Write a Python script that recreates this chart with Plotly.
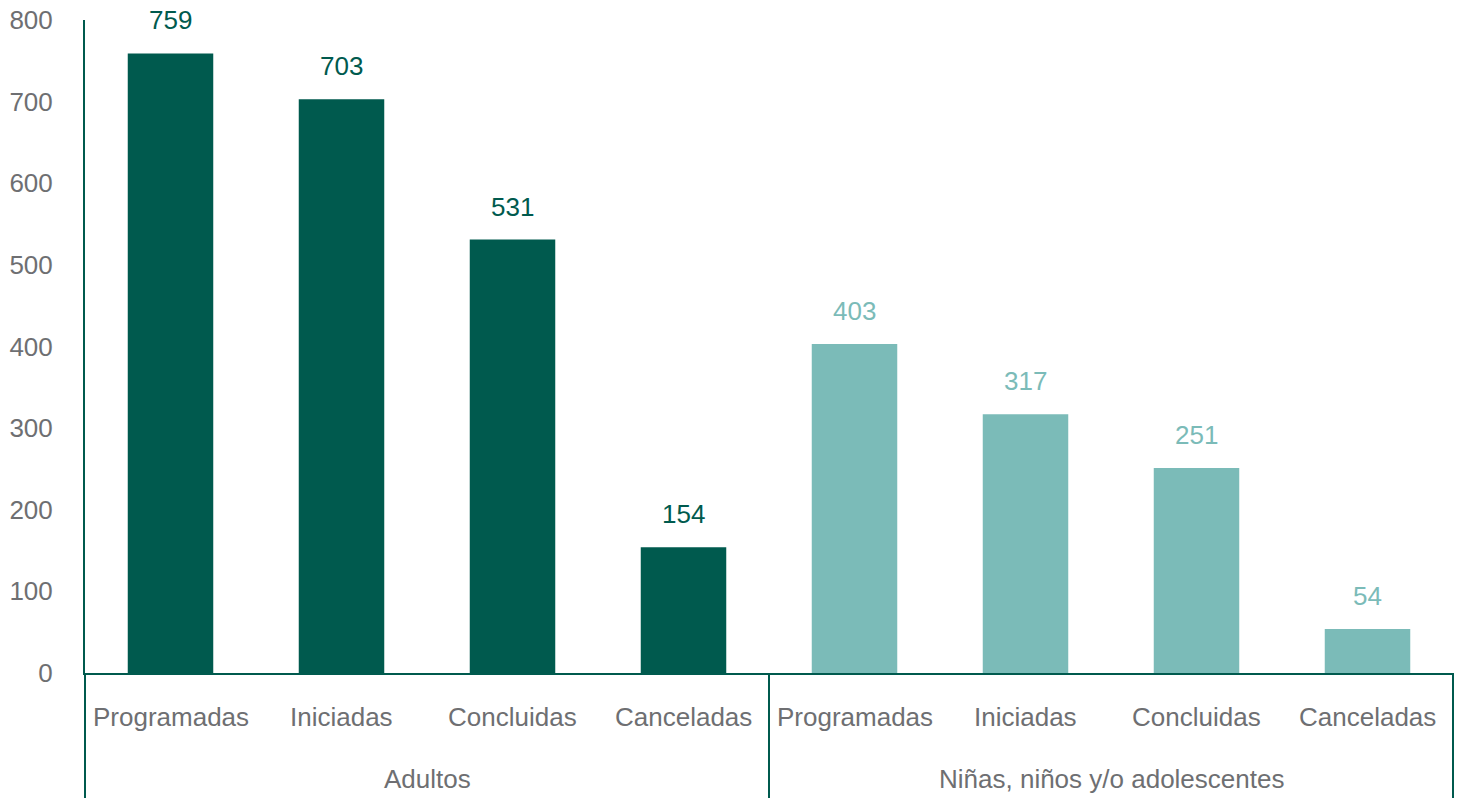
import plotly.graph_objects as go

groups = ["Adultos", "Niñas, niños y/o adolescentes"]
stages = ["Programadas", "Iniciadas", "Concluidas", "Canceladas"]
adultos = [759, 703, 531, 154]
ninos = [403, 317, 251, 54]
y_ticks = [0, 100, 200, 300, 400, 500, 600, 700, 800]

dark = "#005A4E"
light = "#7BBBB8"
gray = "#6E6F72"
font_family = "Liberation Sans, Arial, sans-serif"
fsize = 26

series = [(groups[0], adultos, dark), (groups[1], ninos, light)]
n_total = sum(len(v) for _, v, _ in series)

fig = go.Figure()
annotations = []
shapes = []
idx = 0
for g, (grp, vals, col) in enumerate(series):
    fig.add_trace(go.Bar(
        x=[[grp] * len(stages), stages],
        y=vals,
        marker=dict(color=col, line=dict(width=0)),
        showlegend=False,
        hoverinfo="x+y",
    ))
    start = idx
    for stage, v in zip(stages, vals):
        xc = (idx + 0.5) / n_total
        # value label above the bar
        annotations.append(dict(
            x=xc, xref="paper", xanchor="center", y=v, yref="y", text=str(v),
            showarrow=False, yanchor="bottom", yshift=16,
            font=dict(color=col, size=fsize, family=font_family),
        ))
        # category label under the axis
        annotations.append(dict(
            x=xc, xref="paper", xanchor="center", y=0, yref="paper", text=stage,
            showarrow=False, yanchor="middle", yshift=-44,
            font=dict(color=gray, size=fsize, family=font_family),
        ))
        idx += 1
    # group label
    annotations.append(dict(
        x=(start + idx) / 2 / n_total, xref="paper", xanchor="center",
        y=0, yref="paper", text=grp, showarrow=False, yanchor="middle", yshift=-106,
        font=dict(color=gray, size=fsize, family=font_family),
    ))
    # group dividers
    for xb in ([start / n_total] if g > 0 else []) + [idx / n_total]:
        shapes.append(dict(
            type="line", xref="paper", x0=xb, x1=xb,
            yref="paper", ysizemode="pixel", yanchor=0, y0=0, y1=-130,
            line=dict(color=dark, width=2),
        ))
# left axis line extended down through the label rows
shapes.append(dict(
    type="line", xref="paper", x0=0, x1=0,
    yref="paper", ysizemode="pixel", yanchor=0, y0=0, y1=-130,
    line=dict(color=dark, width=2),
))

fig.update_layout(
    width=1458, height=798,
    margin=dict(l=85, r=5, t=16, b=125),
    paper_bgcolor="white", plot_bgcolor="white",
    bargap=0.5,
    font=dict(family=font_family, size=fsize, color=gray),
    annotations=annotations,
    shapes=shapes,
)
fig.update_xaxes(
    type="multicategory",
    showline=True, linecolor=dark, linewidth=2,
    showticklabels=False, showdividers=False,
    showgrid=False, ticks="",
)
fig.update_yaxes(
    range=[0, 800], tickvals=y_ticks,
    showline=True, linecolor=dark, linewidth=2,
    showgrid=False, zeroline=False, ticks="",
    ticklabelstandoff=25,
    tickfont=dict(size=fsize, color=gray),
)
fig.write_html("out.html")
